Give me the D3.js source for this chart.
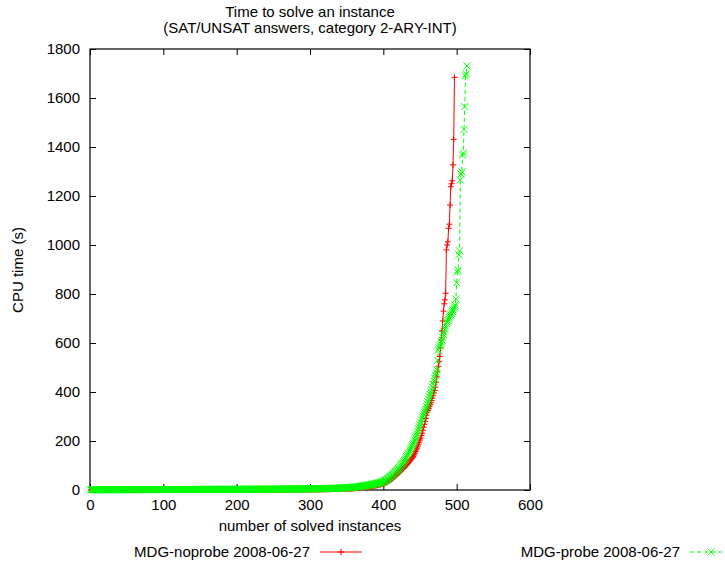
<!DOCTYPE html>
<html><head><meta charset="utf-8">
<script src="https://cdn.jsdelivr.net/npm/d3@7"></script>
<style>body{margin:0;background:#fff}text{font-family:"Liberation Sans",Arial,sans-serif;fill:#000}</style>
</head><body><svg id="c" width="725" height="570"></svg>
<script>
const titleLines = ["Time to solve an instance", "(SAT/UNSAT answers, category 2-ARY-INT)"];
const xLabel = "number of solved instances";
const yLabel = "CPU time (s)";
const xTicks = [0, 100, 200, 300, 400, 500, 600];
const yTicks = [0, 200, 400, 600, 800, 1000, 1200, 1400, 1600, 1800];
const seriesNames = ["MDG-noprobe 2008-06-27", "MDG-probe 2008-06-27"];

// sorted CPU times (s); x = rank (number of solved instances)
const noprobeTimes = [
0,0,0,0,0.01,0.01,0.01,0.01,0.01,0.01,
0.02,0.02,0.02,0.02,0.02,0.03,0.03,0.03,0.03,0.03,
0.04,0.04,0.04,0.04,0.05,0.05,0.05,0.05,0.06,0.06,
0.06,0.06,0.07,0.07,0.07,0.08,0.08,0.08,0.08,0.09,
0.09,0.09,0.1,0.1,0.1,0.1,0.11,0.11,0.11,0.12,
0.12,0.12,0.13,0.13,0.13,0.14,0.14,0.14,0.15,0.15,
0.15,0.16,0.16,0.16,0.17,0.17,0.17,0.18,0.18,0.18,
0.19,0.19,0.19,0.2,0.2,0.2,0.21,0.21,0.21,0.22,
0.22,0.22,0.23,0.23,0.23,0.24,0.24,0.25,0.25,0.25,
0.26,0.26,0.27,0.27,0.27,0.28,0.28,0.29,0.29,0.3,
0.3,0.31,0.31,0.32,0.32,0.32,0.33,0.33,0.34,0.34,
0.35,0.35,0.36,0.36,0.36,0.37,0.37,0.38,0.38,0.39,
0.39,0.4,0.4,0.41,0.41,0.42,0.42,0.43,0.43,0.44,
0.44,0.45,0.45,0.46,0.46,0.47,0.47,0.48,0.48,0.49,
0.49,0.5,0.5,0.51,0.51,0.52,0.52,0.53,0.54,0.54,
0.55,0.55,0.56,0.56,0.57,0.58,0.58,0.59,0.59,0.6,
0.61,0.61,0.62,0.62,0.63,0.64,0.64,0.65,0.66,0.66,
0.67,0.68,0.68,0.69,0.7,0.7,0.71,0.72,0.72,0.73,
0.74,0.74,0.75,0.76,0.76,0.77,0.78,0.78,0.79,0.8,
0.8,0.81,0.82,0.82,0.83,0.84,0.85,0.85,0.86,0.87,
0.88,0.89,0.9,0.91,0.92,0.93,0.94,0.95,0.96,0.97,
0.98,0.99,1,1.01,1.02,1.03,1.04,1.05,1.06,1.07,
1.08,1.09,1.1,1.11,1.12,1.13,1.14,1.15,1.16,1.17,
1.18,1.19,1.2,1.21,1.22,1.23,1.24,1.25,1.27,1.28,
1.29,1.3,1.32,1.33,1.34,1.36,1.37,1.38,1.4,1.41,
1.43,1.44,1.46,1.47,1.49,1.5,1.52,1.53,1.55,1.57,
1.58,1.6,1.62,1.63,1.65,1.67,1.69,1.7,1.72,1.74,
1.76,1.78,1.8,1.82,1.84,1.86,1.88,1.9,1.92,1.94,
1.96,1.98,2,2.02,2.05,2.07,2.09,2.12,2.14,2.17,
2.19,2.22,2.24,2.27,2.3,2.33,2.35,2.38,2.41,2.44,
2.47,2.5,2.54,2.57,2.6,2.63,2.67,2.7,2.74,2.78,
2.81,2.85,2.89,2.93,2.97,3.01,3.05,3.1,3.14,3.18,
3.23,3.28,3.32,3.37,3.42,3.47,3.52,3.58,3.63,3.69,
3.74,3.8,3.86,3.92,3.98,4.05,4.11,4.18,4.25,4.32,
4.39,4.46,4.54,4.62,4.7,4.78,4.86,4.95,5.04,5.13,
5.2,5.4,5.6,5.8,6,6.2,6.4,6.6,6.8,7,
7.2,7.5,7.8,8,8.3,8.6,8.9,9.2,9.5,9.8,
10.1,10.4,10.8,11.1,11.5,11.9,12.3,12.7,13.1,13.5,
13.9,14.3,14.8,15.3,15.8,16.3,16.8,17.4,18,18.6,
19.2,19.8,20.5,21.2,21.9,22.6,23.4,24.2,25,25.9,
27,28.5,30,31.5,33,34.5,36,38,40,42,
44,46,48.5,51,53.5,56,58.5,61,64,67,
70,73,76,79,82,85,88,91,94,97,
100,103.5,107,110.5,114,118,122,126,130,134,
137,143,150,157,164,171,179,187,195,204,
212,222,232,244,256,268,280,292,305,318,
325,332,340,348,356,365,375,385,396,406,
420,440,462,485,505,525,545,
580,615,650,690,730,760,776,
803,980,1000,1013,1068,1085,1163,1238,1250,1262,1327,1431,1684
];

const probeTimes = [
1.2,1.2,1.21,1.22,1.22,1.23,1.24,1.24,1.25,1.26,
1.26,1.27,1.28,1.28,1.29,1.3,1.3,1.31,1.32,1.32,
1.33,1.34,1.34,1.35,1.36,1.36,1.37,1.38,1.38,1.39,
1.4,1.4,1.41,1.42,1.42,1.43,1.44,1.44,1.45,1.46,
1.46,1.47,1.48,1.48,1.49,1.5,1.5,1.51,1.52,1.52,
1.53,1.54,1.54,1.55,1.56,1.56,1.57,1.58,1.58,1.59,
1.6,1.6,1.61,1.62,1.62,1.63,1.64,1.64,1.65,1.66,
1.66,1.67,1.68,1.68,1.69,1.7,1.7,1.71,1.72,1.72,
1.73,1.74,1.74,1.75,1.76,1.76,1.77,1.78,1.78,1.79,
1.8,1.8,1.81,1.82,1.82,1.83,1.84,1.84,1.85,1.86,
1.87,1.88,1.89,1.9,1.91,1.92,1.93,1.93,1.94,1.95,
1.96,1.97,1.98,1.99,2,2.01,2.02,2.02,2.03,2.04,
2.05,2.06,2.07,2.08,2.09,2.1,2.11,2.11,2.12,2.13,
2.14,2.15,2.16,2.17,2.18,2.19,2.2,2.2,2.21,2.22,
2.23,2.24,2.25,2.26,2.27,2.28,2.29,2.29,2.3,2.31,
2.32,2.33,2.34,2.35,2.36,2.37,2.38,2.38,2.39,2.4,
2.41,2.42,2.43,2.44,2.45,2.46,2.47,2.47,2.48,2.49,
2.5,2.51,2.52,2.53,2.54,2.55,2.56,2.56,2.57,2.58,
2.59,2.6,2.61,2.62,2.63,2.64,2.65,2.65,2.66,2.67,
2.68,2.69,2.7,2.71,2.72,2.73,2.74,2.75,2.76,2.77,
2.78,2.79,2.8,2.82,2.83,2.84,2.85,2.86,2.88,2.89,
2.9,2.91,2.93,2.94,2.95,2.96,2.98,2.99,3,3.02,
3.03,3.04,3.06,3.07,3.08,3.1,3.11,3.13,3.14,3.15,
3.17,3.18,3.2,3.21,3.23,3.24,3.26,3.27,3.29,3.3,
3.32,3.34,3.35,3.37,3.38,3.4,3.42,3.43,3.45,3.47,
3.49,3.5,3.52,3.54,3.56,3.58,3.6,3.61,3.63,3.65,
3.67,3.69,3.71,3.73,3.75,3.77,3.8,3.82,3.84,3.86,
3.88,3.91,3.93,3.95,3.98,4,4.03,4.05,4.08,4.1,
4.13,4.16,4.18,4.21,4.24,4.27,4.3,4.33,4.36,4.39,
4.42,4.45,4.49,4.52,4.56,4.59,4.63,4.67,4.71,4.75,
4.79,4.83,4.87,4.92,4.96,5.01,5.05,5.1,5.15,5.2,
5.25,5.3,5.36,5.41,5.47,5.53,5.59,5.65,5.71,5.78,
5.85,5.92,5.99,6.06,6.14,6.22,6.3,6.38,6.47,6.56,
6.65,6.74,6.84,6.94,7.04,7.15,7.26,7.37,7.49,7.61,
7.73,7.86,7.99,8.13,8.27,8.42,8.57,8.73,8.89,9.06,
9.2,9.4,9.6,9.8,10,10.3,10.6,10.9,11.2,11.5,
11.8,12.1,12.4,12.8,13.2,13.6,14,14.4,14.8,15.2,
15.6,16,16.5,17,17.5,18,18.5,19,19.5,20,
20.5,21,21.6,22.2,22.8,23.4,24,24.6,25.2,25.9,
26.6,27.3,28,28.8,29.6,30.4,31.2,32,32.9,33.8,
35,37,39,41,43,45.5,48,50.5,53,55.5,
58,60.5,63,66,69,72,75,78,81,84,
87,91,95,99,103,107,111,115,120,125,130,136,
142,148,154,160,166,172,178,184,191,198,204,
213,222,231,240,249,258,267,276,286,
294,302,310,318,325,332,340,
350,360,370,380,390,399,408,
420,432,444,456,468,479,490,
530,571,
580,588,596,604,612,
623,634,645,656,668,680,
686,692,698,704,710,715,721,
728,735,742,748,755,
780,846,890,898,960,976,1265,1290,1299,1367,1375,1472,1565,1690,1698,1731
];

const colors = ["#ff0000", "#00ff00"];

const svg = d3.select("#c");
const L = 90, R = 530, T = 49, B = 490;
const x = d3.scaleLinear().domain([0, 600]).range([L, R]);
const y = d3.scaleLinear().domain([0, 1800]).range([B, T]);
const fs = 15;

// titles
titleLines.forEach((t, i) => {
  svg.append("text").attr("x", (L + R) / 2).attr("y", 17 + i * 16)
    .attr("text-anchor", "middle").attr("font-size", fs).text(t);
});

// axes (ticks inward, mirrored)
const tickLen = 6;
const gx = svg.append("g").attr("transform", `translate(0,${B})`)
  .call(d3.axisBottom(x).tickValues(xTicks).tickSize(-tickLen).tickPadding(9).tickFormat(d3.format("d")));
const gx2 = svg.append("g").attr("transform", `translate(0,${T})`)
  .call(d3.axisTop(x).tickValues(xTicks).tickSize(-tickLen).tickFormat(""));
const gy = svg.append("g").attr("transform", `translate(${L},0)`)
  .call(d3.axisLeft(y).tickValues(yTicks).tickSize(-tickLen).tickPadding(10).tickFormat(d3.format("d")));
const gy2 = svg.append("g").attr("transform", `translate(${R},0)`)
  .call(d3.axisRight(y).tickValues(yTicks).tickSize(-tickLen).tickFormat(""));
[gx, gx2, gy, gy2].forEach(g => {
  g.select(".domain").remove();
  g.selectAll("line").attr("stroke", "#000").attr("stroke-width", 1);
  g.selectAll("text").attr("font-size", fs).attr("font-family", "Liberation Sans, Arial, sans-serif").attr("fill", "#000");
});
svg.append("rect").attr("x", L).attr("y", T).attr("width", R - L).attr("height", B - T)
  .attr("fill", "none").attr("stroke", "#000").attr("stroke-width", 1.2);

// axis labels
svg.append("text").attr("x", (L + R) / 2).attr("y", 531).attr("text-anchor", "middle")
  .attr("font-size", fs).text(xLabel);
svg.append("text").attr("transform", "translate(23,270) rotate(-90)").attr("text-anchor", "middle")
  .attr("font-size", fs).text(yLabel);

// markers
function plus(g, cx, cy, c) {
  const ms = 3;
  g.append("path").attr("d", `M${cx - ms},${cy}H${cx + ms}M${cx},${cy - ms}V${cy + ms}`)
    .attr("stroke", c).attr("stroke-width", 1).attr("fill", "none");
}
function cross(g, cx, cy, c) {
  const ms = 3.5;
  g.append("path").attr("d", `M${cx - ms},${cy - ms}L${cx + ms},${cy + ms}M${cx - ms},${cy + ms}L${cx + ms},${cy - ms}`)
    .attr("stroke", c).attr("stroke-width", 1).attr("fill", "none");
}

const series = [
  { name: seriesNames[0], vals: noprobeTimes, color: colors[0], dash: null, mark: plus },
  { name: seriesNames[1], vals: probeTimes, color: colors[1], dash: "4,3", mark: cross }
];
const line = d3.line().x(d => x(d[0])).y(d => y(d[1]));
series.forEach(s => {
  const pts = s.vals.map((v, i) => [i + 1, v]);
  const g = svg.append("g");
  g.append("path").datum(pts).attr("d", line).attr("fill", "none")
    .attr("stroke", s.color).attr("stroke-width", 1).attr("stroke-dasharray", s.dash);
  pts.forEach(p => s.mark(g, x(p[0]), y(p[1]), s.color));
});

// legend
const legY = 552;
const legs = [{ textEnd: 310, x0: 320, x1: 362 }, { textEnd: 680, x0: 690, x1: 732 }];
series.forEach((s, i) => {
  const lg = legs[i];
  svg.append("text").attr("x", lg.textEnd).attr("y", legY + 5).attr("text-anchor", "end")
    .attr("font-size", fs).text(s.name);
  svg.append("line").attr("x1", lg.x0).attr("x2", lg.x1).attr("y1", legY).attr("y2", legY)
    .attr("stroke", s.color).attr("stroke-width", 1).attr("stroke-dasharray", s.dash);
  s.mark(svg, (lg.x0 + lg.x1) / 2, legY, s.color);
});
</script></body></html>
